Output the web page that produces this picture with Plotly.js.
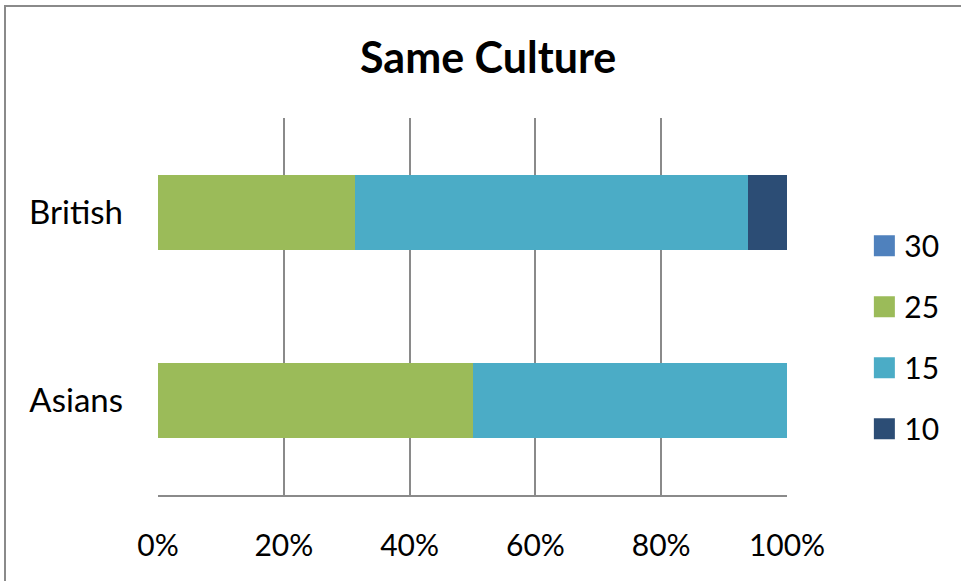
<!DOCTYPE html>
<html>
<head>
<meta charset="utf-8">
<script src="https://cdn.plot.ly/plotly-3.0.1.min.js"></script>
<style>
  html, body { margin: 0; padding: 0; background: #fff; }
  #wrap { position: relative; width: 961px; height: 581px; overflow: hidden; }
  #chart { width: 961px; height: 581px; }
  #frame { position: absolute; left: 4px; top: 5px; width: 1000px; height: 1000px;
           border-left: 2px solid #8a8a8a; border-top: 2px solid #8a8a8a; pointer-events: none; }
  #chart .legend .legendpoints path { transform: translate(20px, 0px) scale(1.75); }
</style>
</head>
<body>
<div id="wrap"><div id="chart"></div><div id="frame"></div></div>
<script>
const categories = ['Asians', 'British'];
const seriesNames = ['30', '25', '15', '10'];
const s30 = [0, 0];
const s25 = [50, 31.25];
const s15 = [50, 62.5];
const s10 = [0, 6.25];
const tickVals = [0, 20, 40, 60, 80, 100];
const tickText = ['0%', '20%', '40%', '60%', '80%', '100%'];
const colors = ['#4F81BD', '#9BBB59', '#4BACC6', '#2C4D75'];

const series = [s30, s25, s15, s10];
const FONT = 'Lato, "Open Sans", sans-serif';

const traces = series.map((vals, i) => ({
  type: 'bar',
  orientation: 'h',
  name: seriesNames[i],
  y: categories,
  x: vals,
  marker: { color: colors[i], line: { width: 0 } },
  legendgroup: 'g' + i,
  hoverinfo: 'x+name'
}));

const layout = {
  width: 961, height: 581,
  barmode: 'stack',
  barnorm: 'percent',
  bargap: 0.6,
  margin: { l: 158, r: 174, t: 118, b: 86 },
  paper_bgcolor: '#fff',
  plot_bgcolor: '#fff',
  font: { family: FONT, color: '#000', size: 30 },
  title: { text: '<b>Same Culture</b>', x: 0.508, xanchor: 'center', y: 0.9, yanchor: 'middle',
           font: { family: FONT, size: 43, color: '#000' } },
  xaxis: {
    range: [0, 100],
    tickvals: tickVals, ticktext: tickText,
    showgrid: true, gridcolor: '#8a8a8a', gridwidth: 2,
    showline: true, linecolor: '#8a8a8a', linewidth: 2,
    zeroline: false,
    ticks: '', ticklabelstandoff: 23,
    tickfont: { family: FONT, size: 30, color: '#000' },
    fixedrange: true
  },
  yaxis: {
    type: 'category',
    showgrid: false, showline: false, zeroline: false,
    ticks: '', ticklabelstandoff: 34,
    tickfont: { family: FONT, size: 33, color: '#000' },
    fixedrange: true
  },
  showlegend: true,
  legend: {
    x: 1.123, xanchor: 'left', y: 0.73, yanchor: 'top',
    traceorder: 'grouped', tracegroupgap: 19,
    font: { family: FONT, size: 30, color: '#000' },
    bgcolor: 'rgba(0,0,0,0)'
  }
};

Plotly.newPlot('chart', traces, layout, { displayModeBar: false, staticPlot: true });
</script>
</body>
</html>
